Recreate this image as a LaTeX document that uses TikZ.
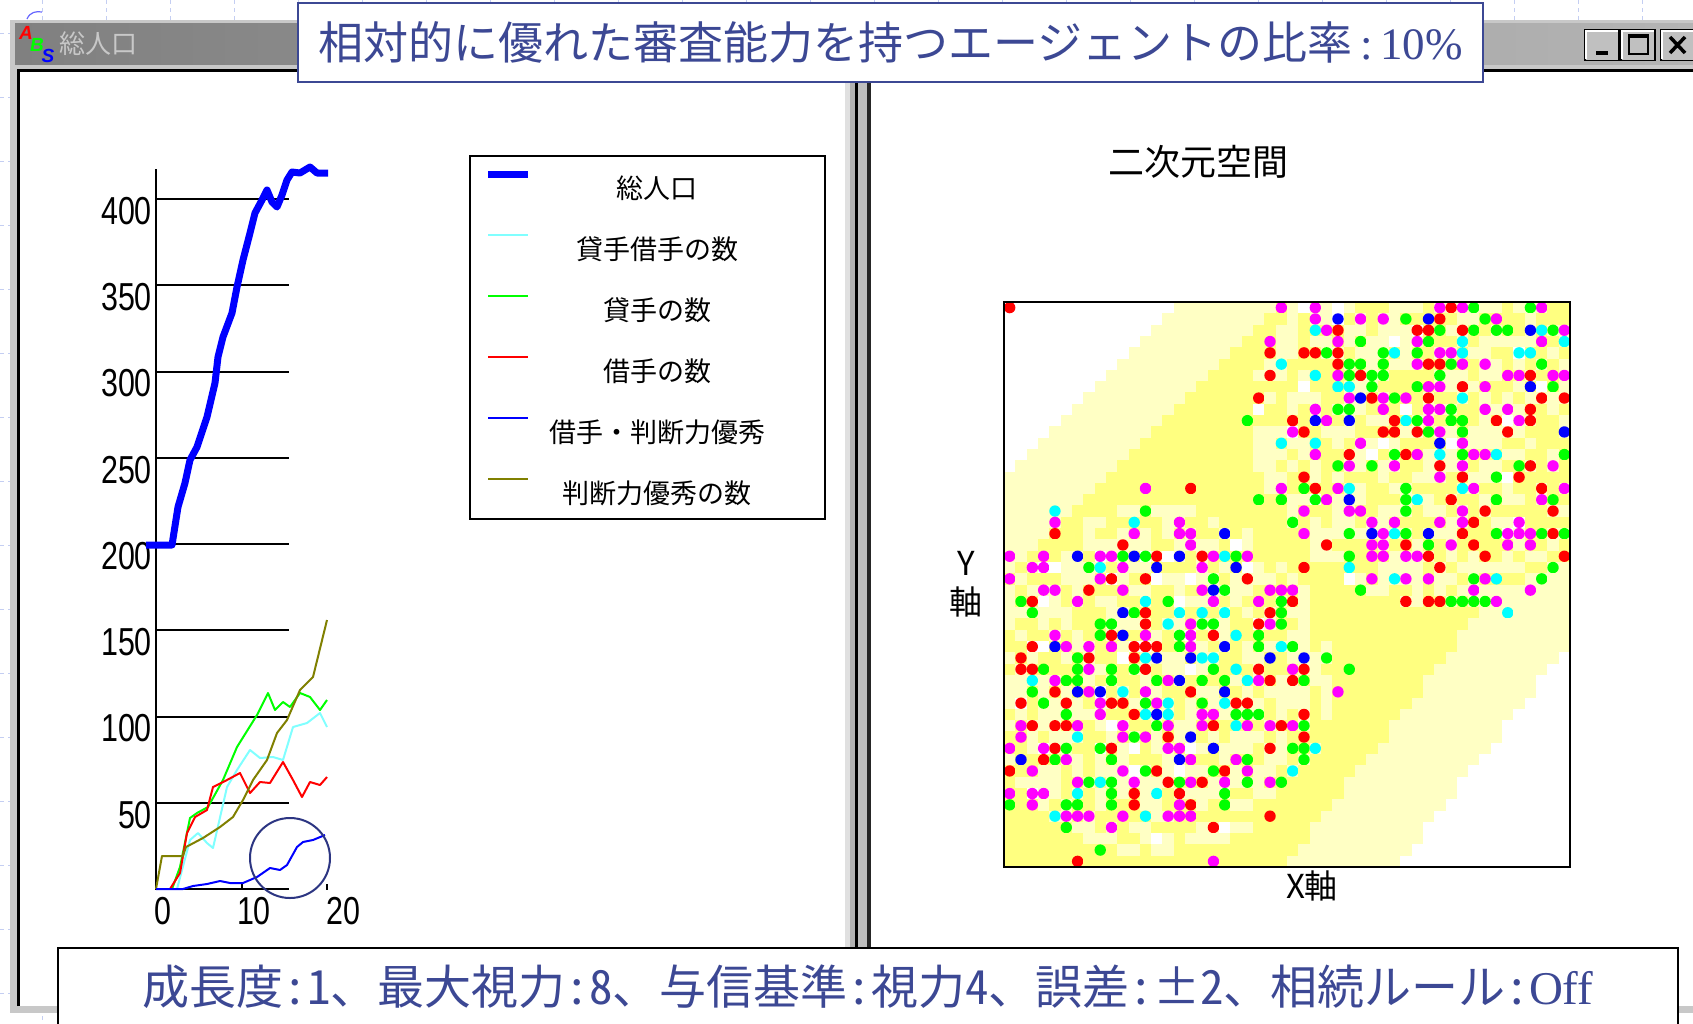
\documentclass[tikz,border=0pt]{standalone}
\usepackage{fontspec}
\newfontfamily\jpfont{Noto Sans CJK JP}
\newfontfamily\jphwfont[RawFeature=+hwid]{Noto Sans CJK JP}
\newfontfamily\serfont{Liberation Serif}
\newfontfamily\numfont{Liberation Sans}
\usetikzlibrary{positioning}

\definecolor{titleblue}{HTML}{3C4894}
\definecolor{ringblue}{HTML}{2C3582}
\definecolor{curveolive}{HTML}{808000}
\definecolor{lcyan}{HTML}{80FFFF}
\definecolor{barL}{HTML}{808080}
\definecolor{barR}{HTML}{B4B4B4}
\definecolor{winframe}{HTML}{C8C8C8}
\definecolor{btnface}{HTML}{C0C0C0}
\definecolor{pagegrid}{HTML}{C4CEF2}
\definecolor{cell0}{HTML}{FFFFFF}
\definecolor{cell1}{HTML}{FFFFC4}
\definecolor{cell2}{HTML}{FFFF80}
\definecolor{agent1}{HTML}{FF00FF}
\definecolor{agent2}{HTML}{00FF00}
\definecolor{agent3}{HTML}{FF0000}
\definecolor{agent4}{HTML}{00FFFF}
\definecolor{agent5}{HTML}{0000FF}

\begin{document}
\begin{tikzpicture}[x=1pt,y=-1pt,
  pagegridln/.style={pagegrid, line width=1pt, dash pattern=on 4pt off 4pt},
  gridln/.style={line width=2pt},
  series/.style={line width=2pt, line join=round},
  axislbl/.style={font=\numfont\fontsize{39}{39}\selectfont, xscale=0.78, inner sep=0pt},
  uitext/.style={font=\jpfont\fontsize{27}{27}\selectfont, inner sep=0pt},
  iconlbl/.style={font=\numfont\bfseries\itshape\fontsize{19}{19}\selectfont, inner sep=0pt},
  winbtn/.style={fill=btnface, draw=black, line width=1.5pt, minimum width=34pt, minimum height=31pt, inner sep=0pt},
  infobox/.style={fill=white, line width=1.6pt, inner sep=0pt}]
\useasboundingbox (0,0) rectangle (1693,1023);
\fill[white] (0,0) rectangle (1693,1023);
\foreach \k in {0,...,25} \draw[pagegridln] (42+64*\k,0) -- (42+64*\k,1023);
\foreach \k in {0,...,15} \draw[pagegridln] (0,33+64*\k) -- (1693,33+64*\k);
\draw[agent5!60, line width=1.2pt] (27,19) .. controls (30,12) and (36,11) .. (42,12);

% window
\fill[winframe] (10,20) rectangle (1693,1013);
\shade[left color=barL, right color=barR] (15,23) rectangle (1693,64);
\fill[white] (17,69) rectangle (1693,1006);
\draw[line width=3pt] (18.5,1006) -- (18.5,70.5) -- (1693,70.5);
\node[iconlbl, text=agent3] (icona) at (26,33) {A};
\node[iconlbl, text=agent2] (iconb) at (37,45) {B};
\node[iconlbl, text=agent5] (icons) at (48,56) {S};
\node[uitext, text=winframe, font=\jpfont\fontsize{26}{26}\selectfont] (wintitle) at (98,44) {総人口};
\node[winbtn] (btnmin) at (1602,45) {};
\node[winbtn] (btnmax) at (1638,45) {};
\node[winbtn] (btnclose) at (1678,45) {};
\foreach \b in {btnmin,btnmax,btnclose}
  \draw[white, line width=2pt] ([xshift=2pt,yshift=2pt]\b.south west) -- ([xshift=2pt,yshift=-2pt]\b.north west) -- ([xshift=-2pt,yshift=-2pt]\b.north east);
\draw[line width=3.5pt] (1596,53) -- (1608,53);
\draw[line width=2pt] (1629,35) rectangle (1648,54);
\draw[line width=3pt] (1629,36) -- (1648,36);
\draw[line width=3.5pt] (1670,37) -- (1685,53) (1670,53) -- (1685,37);

\fill[black!12] (845,69) rectangle (850,1006);
\fill[black!30] (850,69) rectangle (855,1006);
\fill[black] (855,69) rectangle (858,1006);
\fill[black!25] (858,69) rectangle (867,1006);
\fill[black!85] (867,69) rectangle (871,1006);

% chart
\draw[gridln] (156,169) -- (156,889) -- (289,889);
\foreach \v in {50,100,...,400}{
  \draw[gridln] (156,889-1.725*\v) -- (289,889-1.725*\v);
  \node[axislbl, anchor=north east] (ylbl\v) at (152,887-1.725*\v) {\v};
}
\node[axislbl] (xlbl0) at (163,911) {0};
\node[axislbl] (xlbl10) at (254,911) {10};
\node[axislbl] (xlbl20) at (343,911) {20};
\draw[gridln] (242,882) -- (242,889);
\draw[line width=1.5pt] (327,884) -- (327,890);

\draw[series, lcyan] plot coordinates {(177,889) (190,840) (198,833) (207,843) (213,848) (227,787) (237,770) (250,750) (260,758) (273,757) (283,760) (293,727) (307,723) (320,713) (327,727)};
\draw[series, agent2] plot coordinates {(172,889) (180,867) (190,818) (197,813) (208,807) (223,780) (237,747) (257,715) (268,693) (275,710) (283,702) (290,707) (300,693) (310,697) (320,710) (327,700)};
\draw[series, agent3] plot coordinates {(170,889) (180,873) (187,833) (195,817) (207,810) (213,787) (227,780) (240,773) (250,793) (260,782) (270,783) (283,762) (293,780) (302,797) (310,782) (320,785) (327,777)};
\draw[series, curveolive] plot coordinates {(156,889) (162,856) (183,856) (186,847) (203,838) (220,827) (233,817) (243,800) (253,780) (267,760) (277,733) (287,720) (300,690) (313,677) (327,620)};
\draw[series, agent5] plot coordinates {(156,889) (183,889) (193,886) (207,884) (220,881) (230,883) (243,883) (257,877) (270,868) (280,870) (287,865) (297,847) (303,842) (313,840) (325,835)};
\draw[agent5, line width=7pt, line join=round] plot coordinates {(146,545) (172,545) (178,507) (185,483) (190,460) (197,447) (207,417) (215,383) (218,357) (223,337) (232,313) (237,287) (243,260) (250,233) (255,213) (262,200) (267,190) (272,202) (277,207) (282,195) (287,180) (292,172) (300,173) (310,167) (317,173) (328,173)};
\draw[ringblue, line width=2pt] (290,858) circle[radius=40pt];

% legend
\node[draw, line width=2pt, minimum width=355pt, minimum height=363pt, anchor=north west, inner sep=0pt] (legend) at (469,155) {};
\foreach \yy/\col/\lw/\txt [count=\n] in {174/agent5/7/総人口, 235/lcyan/2/貸手借手の数, 296/agent2/2/貸手の数, 357/agent3/2/借手の数, 418/agent5/2/借手・判断力優秀, 479/curveolive/2/判断力優秀の数}{
  \draw[\col, line width=\lw pt] (488,\yy) -- (528,\yy);
  \node[uitext] (lgd\n) at (657,\yy+14) {\txt};
}

% space
\node[uitext, font=\jpfont\fontsize{36}{36}\selectfont] (spacettl) at (1198,162) {二次元空間};
\node[uitext, font=\jpfont\fontsize{33}{33}\selectfont] (ylab) at (966,563) {Y};
\node[uitext, font=\jpfont\fontsize{33}{33}\selectfont] (ylabb) at (966,602) {軸};
\node[uitext, font=\jpfont\fontsize{33}{33}\selectfont] (xlab) at (1312,886) {X軸};
\pgfmathsetseed{11}
\begin{scope}
\clip (1004,302) rectangle (1570,867);
\foreach \i in {0,...,49}{
  \foreach \j in {0,...,49}{
    \pgfmathsetmacro\cx{1004+11.32*\i}
    \pgfmathsetmacro\cy{302+11.3*\j}
    \pgfmathtruncatemacro\bg{(\i+\j<14.5||1.3*\i+\j>94)?0:((\i+\j<24||1.3*\i+\j>81)?1:2)}
    \pgfmathsetmacro\dA{veclen(\i-13,\j-33)}
    \pgfmathsetmacro\dB{veclen(\i-38,\j-10)}
    \pgfmathsetmacro\dd{min(\dA-14.5,\dB-15.5)}
    \pgfmathsetmacro\rA{rnd}
    \pgfmathtruncatemacro\bg{(\dd<1&&\bg>0)?(\rA<0.45?2:(\rA<0.96?1:0)):\bg}
    \fill[cell\bg] (\cx,\cy) rectangle ++(11.8,11.8);
    \pgfmathsetmacro\pdot{\dd<-2?0.43:(\dd<1.5?0.22:(\dd<4?0.05:0))}
    \pgfmathsetmacro\rB{rnd}
    \pgfmathtruncatemacro\hasdot{\rB<\pdot?1:0}
    \ifnum\hasdot=1
      \pgfmathsetmacro\rC{rnd}
      \pgfmathtruncatemacro\dc{\rC<0.34?1:(\rC<0.6?2:(\rC<0.78?3:(\rC<0.93?4:5)))}
      \fill[agent\dc] (\cx+5.66,\cy+5.65) circle[radius=5.7pt];
    \fi
  }
}
\fill[agent3] (1009.7,307.6) circle[radius=5.7pt];
\end{scope}
\draw[line width=2.5pt] (1004,302) rectangle (1570,867);

% captions
\node[infobox, draw=titleblue, minimum width=1185pt, minimum height=79pt, text=titleblue, font=\fontsize{45}{45}\selectfont] (ratio) at (890.5,42.5) {{\jpfont 相対的に優れた審査能力を持つエージェントの比率}{\serfont\,:\,10\%}};
\node[infobox, draw=black, minimum width=1620pt, minimum height=90pt, anchor=north west] (params) at (57,947) {};
\node[text=titleblue, font=\fontsize{47}{47}\selectfont, inner sep=0pt] (paramtxt) at (868,987) {{\jphwfont 成長度:1、最大視力:8、与信基準:視力4、誤差:±2、相続ルール:}{\serfont Off}};
\end{tikzpicture}
\end{document}
